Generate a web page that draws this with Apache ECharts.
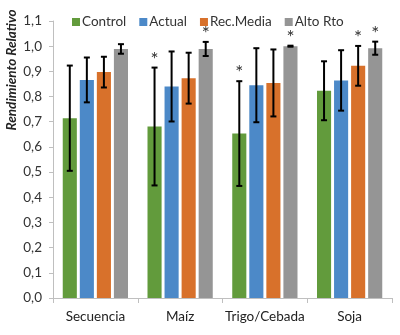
<!DOCTYPE html>
<html>
<head>
<meta charset="utf-8">
<script src="https://cdn.jsdelivr.net/npm/echarts@6/dist/echarts.min.js"></script>
<style>html,body{margin:0;padding:0;background:#fff}#c{width:400px;height:335px}</style>
</head>
<body>
<div id="c"></div>
<script>
var categories = ['Secuencia', 'Maíz', 'Trigo/Cebada', 'Soja'];
var seriesNames = ['Control', 'Actual', 'Rec.Media', 'Alto Rto'];
var control = [0.714, 0.681, 0.653, 0.823];
var controlErr = [0.209, 0.234, 0.208, 0.117];
var controlStar = [0, 1, 1, 0];
var actual = [0.866, 0.840, 0.845, 0.864];
var actualErr = [0.089, 0.139, 0.147, 0.120];
var actualStar = [0, 0, 0, 0];
var recMedia = [0.897, 0.873, 0.854, 0.922];
var recMediaErr = [0.061, 0.101, 0.133, 0.079];
var recMediaStar = [0, 0, 0, 1];
var alto = [0.989, 0.989, 1.000, 0.992];
var altoErr = [0.019, 0.028, 0.002, 0.026];
var altoStar = [0, 1, 1, 1];
var yTicks = ['0,0','0,1','0,2','0,3','0,4','0,5','0,6','0,7','0,8','0,9','1,0','1,1'];

var colors = ['#629B3C', '#4C89C8', '#D8712B', '#959595'];
var values = [control, actual, recMedia, alto];
var errs = [controlErr, actualErr, recMediaErr, altoErr];
var stars = [controlStar, actualStar, recMediaStar, altoStar];

var CAT_GAP = 0.23, BAR_GAP = 0.21, N = 4;
var FONT = 'Lato';

var series = [];
values.forEach(function (vals, i) {
  series.push({
    name: seriesNames[i], type: 'bar', data: vals,
    itemStyle: { color: colors[i] },
    barGap: (BAR_GAP * 100) + '%', barCategoryGap: (CAT_GAP * 100) + '%',
    z: 2
  });
});
values.forEach(function (vals, i) {
  var data = vals.map(function (v, k) { return [k, v, errs[i][k], stars[i][k]]; });
  series.push({
    type: 'custom', data: data, z: 5, silent: true,
    renderItem: function (params, api) {
      var k = api.value(0), v = api.value(1), e = api.value(2), s = api.value(3);
      var band = api.size([1, 0])[0];
      var usable = band * (1 - CAT_GAP);
      var bw = usable / (N + (N - 1) * BAR_GAP);
      var gap = bw * BAR_GAP;
      var off = -usable / 2 + i * (bw + gap) + bw / 2;
      var hi = api.coord([k, v + e]);
      var lo = api.coord([k, v - e]);
      var x = hi[0] + off;
      var cap = 3;
      var st = { stroke: '#000', lineWidth: 2 };
      var children = [
        { type: 'line', shape: { x1: x, y1: hi[1], x2: x, y2: lo[1] }, style: st },
        { type: 'line', shape: { x1: x - cap, y1: hi[1], x2: x + cap, y2: hi[1] }, style: st },
        { type: 'line', shape: { x1: x - cap, y1: lo[1], x2: x + cap, y2: lo[1] }, style: st }
      ];
      if (s) {
        children.push({ type: 'text', x: x, y: hi[1] - 8,
          style: { text: '*', fontSize: 19, fontFamily: FONT, fill: '#333', align: 'center', verticalAlign: 'middle' } });
      }
      return { type: 'group', children: children };
    }
  });
});

var chart = echarts.init(document.getElementById('c'));
chart.setOption({
  animation: false,
  backgroundColor: '#fff',
  grid: { left: 53, right: 8, top: 21, bottom: 37 },
  legend: {
    data: seriesNames, top: 10, left: 67,
    itemWidth: 8, itemHeight: 8, itemGap: 13, icon: 'rect',
    textStyle: { fontFamily: FONT, fontSize: 13.5, color: '#333', padding: [0, 0, 0, -3] }
  },
  xAxis: {
    type: 'category', data: categories,
    axisLine: { lineStyle: { color: '#BFBFBF' } },
    axisTick: { show: true, length: 5, lineStyle: { color: '#BFBFBF' } },
    axisLabel: { interval: 0, fontFamily: FONT, fontSize: 13.5, color: '#222', margin: 12 }
  },
  yAxis: {
    type: 'value', min: 0, max: 1.1, interval: 0.1,
    splitLine: { show: false },
    axisLine: { show: true, lineStyle: { color: '#BFBFBF' } },
    axisTick: { show: true, length: 4, lineStyle: { color: '#BFBFBF' } },
    axisLabel: {
      fontFamily: FONT, fontSize: 13.5, color: '#333', margin: 11,
      formatter: function (v) { return yTicks[Math.round(v * 10)]; }
    }
  },
  graphic: [{
    type: 'text', x: 12, y: 70, rotation: Math.PI / 2,
    style: { text: 'Rendimiento Relativo', fontFamily: FONT, fontSize: 13.5, fontStyle: 'italic', fontWeight: 'bold',
      fill: '#222', align: 'center', verticalAlign: 'middle' }
  }],
  series: series
});
</script>
</body>
</html>
